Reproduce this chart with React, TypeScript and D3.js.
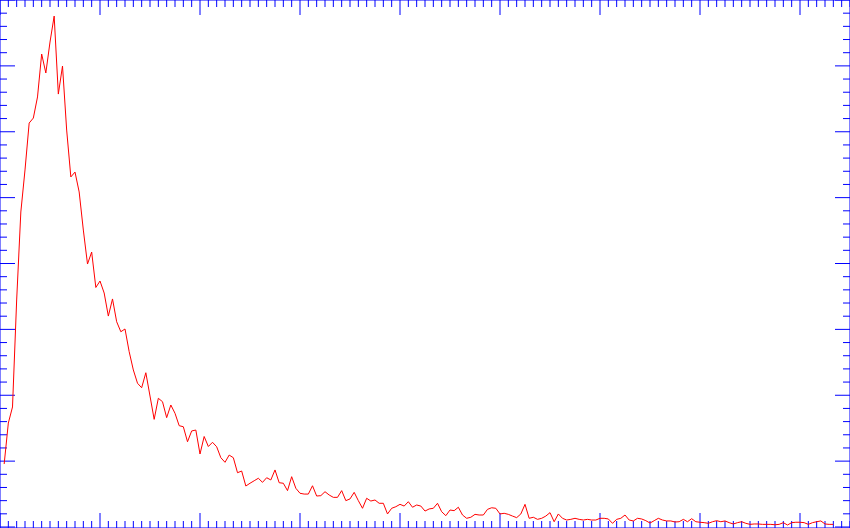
import React from "react";
import * as d3 from "d3";

// Histogram counts per bin (bins 1..200)
const counts: number[] = [
  47.8, 78.9, 91.1, 172.3, 239.1, 271, 306.6, 310.4, 326.4, 359,
  344.6, 368.1, 387.8, 328.6, 349.9, 301.3, 265.7, 269.4, 254.3, 225.4,
  199.6, 208.7, 181.8, 186.7, 177.6, 160.1, 173.1, 155.8, 148.2, 150.3,
  133.1, 119.2, 109.1, 105.7, 117.1, 99.4, 81.7, 97.7, 95.1, 83,
  92.6, 86.3, 76.9, 76.1, 64.7, 72.9, 73.6, 55.4, 68.7, 61.1,
  64.3, 60.9, 52.6, 49.1, 54.6, 52.6, 41.2, 42.5, 31.1, 33.2,
  35.1, 37, 33.9, 37.4, 35.7, 43.3, 33.6, 33.2, 27.6, 38.2,
  29.4, 25.6, 25, 25, 31.3, 23.5, 23.8, 26.8, 24.3, 22.5,
  22.5, 27.6, 20, 21.3, 26.3, 20, 14.2, 21.8, 19.7, 20.5,
  18, 18, 9.9, 14.2, 15.4, 17.2, 15.9, 19.2, 15, 16.7,
  15.9, 12.1, 13.7, 14.2, 18, 11.6, 8.6, 12.9, 12.4, 15,
  9.1, 6.6, 7.4, 9.6, 9.1, 9.1, 13.4, 14.6, 14.2, 9.9,
  10.4, 9.6, 8.3, 7.1, 9.9, 17.2, 6.6, 7.4, 5.8, 6.6,
  8.3, 10.9, 4, 9.9, 6.6, 5.3, 5.8, 6.6, 5.8, 5.3,
  5.8, 5.3, 5.3, 6.6, 6.6, 6.1, 2.8, 5.8, 6.6, 9.1,
  5.3, 4.6, 6.6, 6.1, 4.8, 3, 4.8, 6.6, 5.3, 4.6,
  4.6, 3.8, 4, 5.8, 4, 6.3, 4, 3.6, 3.3, 2.8,
  4, 4.8, 4, 4.6, 3.3, 2.3, 3.3, 4, 2.8, 2,
  2.3, 2.3, 2, 2, 2, 1.7, 2, 3.3, 1.5, 3.3,
  3.6, 3.6, 3.3, 2, 3.3, 4, 4.6, 2.3, 2, 2,
];

const xDomain: [number, number] = [0, 204];
const yDomain: [number, number] = [0, 400];
const xMinorStep = 2;
const xMajorEvery = 12; // minor ticks per major
const yMinorStep = 10;
const yMajorEvery = 5;

const W = 850;
const H = 528;
const PLOT_H = 527;

export default function App() {
  const x = d3.scaleLinear().domain(xDomain).range([0, W]);
  const y = d3.scaleLinear().domain(yDomain).range([PLOT_H, 0]);

  const data = counts.map((v, i) => ({ bin: i + 1, v }));
  const line = d3
    .line<{ bin: number; v: number }>()
    .x((d) => x(d.bin))
    .y((d) => y(d.v));

  const xTicks = d3.range(xDomain[0], xDomain[1] + 0.001, xMinorStep);
  const yTicks = d3.range(yDomain[0], yDomain[1] + 0.001, yMinorStep);
  const blue = "#0000ff";
  const minorLen = 7;
  const majorLen = 15;

  return (
    <svg
      width={W}
      height={H}
      style={{ position: "fixed", left: 0, top: 0, background: "#fff" }}
    >
      <rect x={0} y={0} width={W} height={H} fill="#fff" />
      {/* frame */}
      <line x1={0} y1={0} x2={W} y2={0} stroke={blue} strokeWidth={1} />
      <line x1={0} y1={H} x2={W} y2={H} stroke={blue} strokeWidth={1} />
      <line x1={0} y1={0} x2={0} y2={H} stroke={blue} strokeWidth={1} />
      <line x1={W} y1={0} x2={W} y2={H} stroke={blue} strokeWidth={1} />
      {/* x ticks top & bottom */}
      {xTicks.map((t, i) => {
        const len = i % xMajorEvery === 0 ? majorLen : minorLen;
        const px = x(t);
        return (
          <g key={"x" + i}>
            <line x1={px} x2={px} y1={0} y2={len} stroke={blue} strokeWidth={1} />
            <line x1={px} x2={px} y1={H} y2={H - len} stroke={blue} strokeWidth={1} />
          </g>
        );
      })}
      {/* y ticks left & right */}
      {yTicks.map((t, i) => {
        const len = i % yMajorEvery === 0 ? majorLen : minorLen;
        const py = y(t);
        return (
          <g key={"y" + i}>
            <line x1={0} x2={len} y1={py} y2={py} stroke={blue} strokeWidth={1} />
            <line x1={W} x2={W - len} y1={py} y2={py} stroke={blue} strokeWidth={1} />
          </g>
        );
      })}
      <path d={line(data) || ""} fill="none" stroke="#ff0000" strokeWidth={1} />
    </svg>
  );
}
